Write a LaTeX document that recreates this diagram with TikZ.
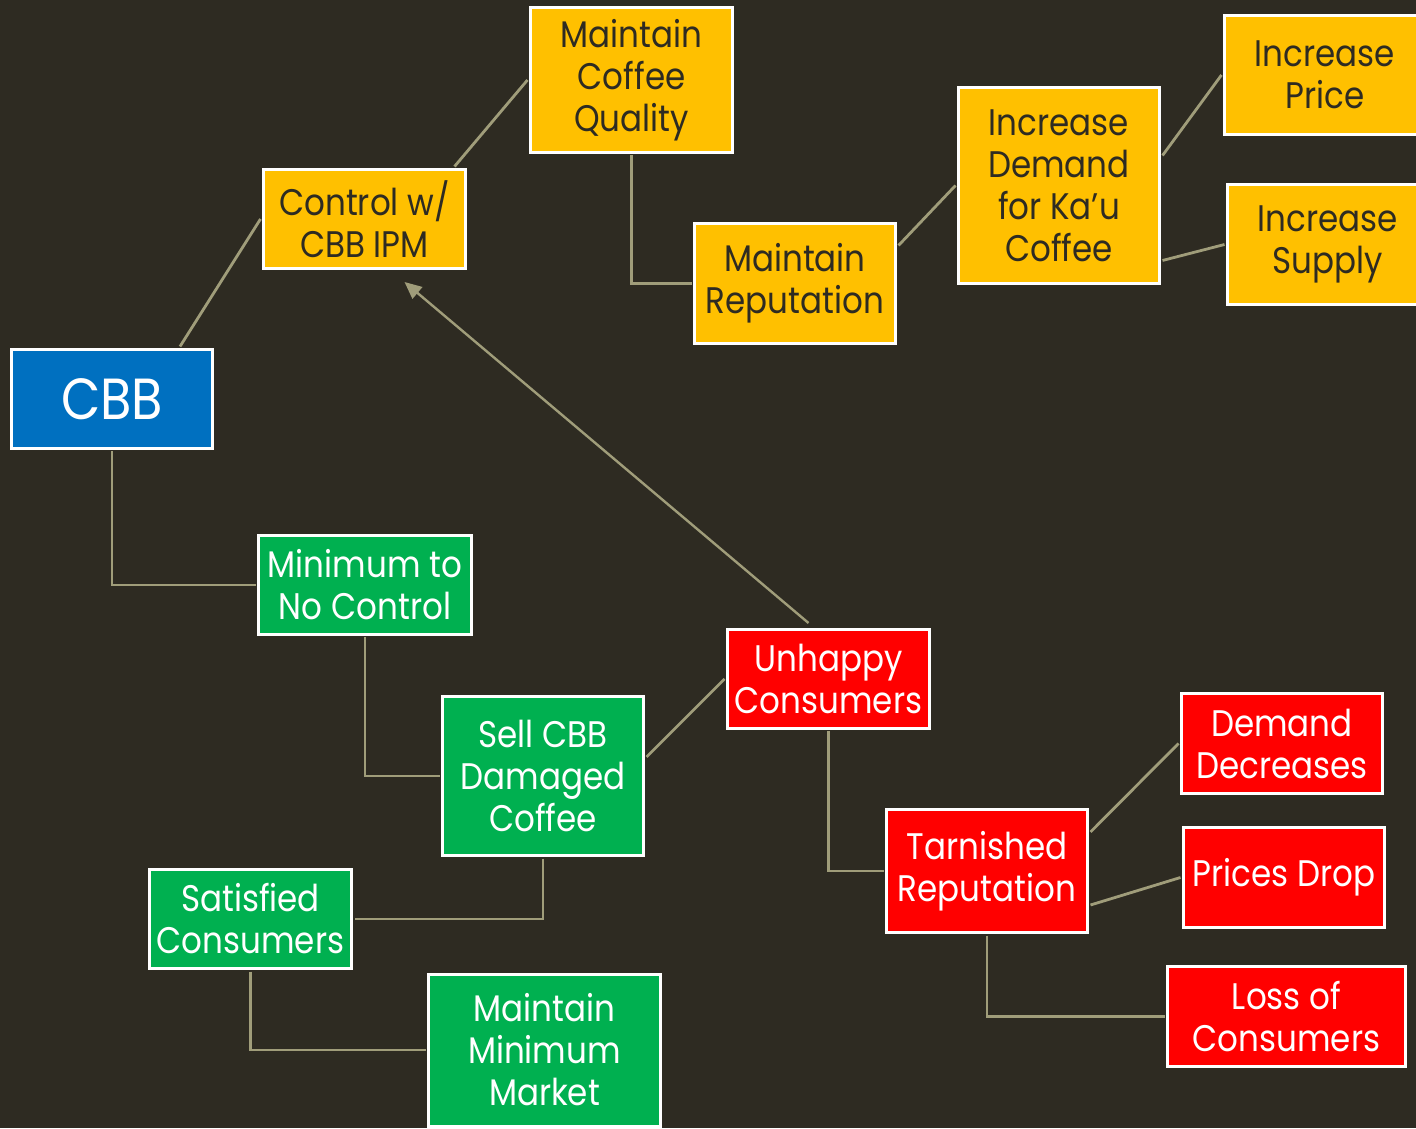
\documentclass[tikz,border=0pt]{standalone}
\usepackage{fontspec}
\setmainfont[FakeStretch=0.88]{Poppins}
\usetikzlibrary{arrows.meta}
\definecolor{bgc}{RGB}{46,43,34}
\definecolor{linec}{RGB}{160,157,122}
\definecolor{yel}{RGB}{255,192,0}
\definecolor{grn}{RGB}{0,176,80}
\definecolor{rd}{RGB}{255,0,0}
\definecolor{blu}{RGB}{0,112,192}
\begin{document}
\begin{tikzpicture}[x=1pt,y=1pt,
  box/.style={draw=white,line width=3pt,align=center,inner sep=0pt,
    font=\fontsize{37}{42}\selectfont},
  ybox/.style={box,fill=yel,text=bgc},
  gbox/.style={box,fill=grn,text=white},
  rbox/.style={box,fill=rd,text=white},
  bbox/.style={box,fill=blu,text=white,font=\fontsize{58}{64}\selectfont},
  conn/.style={draw=linec,line width=2.8pt},
  arr/.style={draw=linec,line width=2.4pt,-{Triangle[length=17pt,width=15pt]}}
]
\fill[bgc] (0,0) rectangle (1416,1128);
\useasboundingbox (0,0) rectangle (1416,1128);
\begin{scope}
\clip (0,0) rectangle (1416,1128);
% nodes
\node[bbox,minimum width=201,minimum height=99] (cbb) at (112,729) {CBB};
\node[ybox,minimum width=202,minimum height=99] (ctrl) at (364.5,909) {Control w/\\CBB IPM};
\node[ybox,minimum width=202,minimum height=145] (mcq) at (631.5,1048) {Maintain\\Coffee\\Quality};
\node[ybox,minimum width=201,minimum height=120] (mr) at (795,844.5) {Maintain\\Reputation};
\node[ybox,minimum width=201,minimum height=196] (id) at (1059,942.5) {Increase\\Demand\\for Ka’u\\Coffee};
\node[ybox,minimum width=201,minimum height=119] (ip) at (1325,1053) {Increase\\Price};
\node[ybox,minimum width=201,minimum height=120] (is) at (1328,883.5) {Increase\\Supply};
\node[gbox,minimum width=213,minimum height=99] (min) at (365,543) {Minimum to\\No Control};
\node[gbox,minimum width=201,minimum height=159] (sell) at (543,352) {Sell CBB\\Damaged\\Coffee};
\node[gbox,minimum width=202,minimum height=99] (sat) at (250.5,209) {Satisfied\\Consumers};
\node[gbox,minimum width=232,minimum height=152] (mmm) at (544.5,78) {Maintain\\Minimum\\Market};
\node[rbox,minimum width=202,minimum height=99] (unh) at (828.5,449) {Unhappy\\Consumers};
\node[rbox,minimum width=201,minimum height=123] (tarn) at (987,257) {Tarnished\\Reputation};
\node[rbox,minimum width=201,minimum height=100] (dd) at (1282,384.5) {Demand\\Decreases};
\node[rbox,minimum width=201,minimum height=100] (pd) at (1284,250.5) {Prices Drop};
\node[rbox,minimum width=238,minimum height=100] (loss) at (1286.5,111.5) {Loss of\\Consumers};
% connectors
\draw[conn] ([xshift=68pt,yshift=1.5pt]cbb.north) -- ([xshift=-1.5pt]ctrl.west);
\draw[conn] ([xshift=90pt,yshift=1.5pt]ctrl.north) -- ([xshift=-1.5pt]mcq.west);
\draw[conn] ([yshift=-1.5pt]mcq.south) |- ([xshift=-1.5pt]mr.west);
\draw[conn] ([xshift=1.5pt,yshift=38pt]mr.east) -- ([xshift=-1.5pt]id.west);
\draw[conn] ([xshift=1.5pt,yshift=30pt]id.east) -- ([xshift=-1.5pt]ip.west);
\draw[conn] ([xshift=1.5pt,yshift=-75pt]id.east) -- ([xshift=-1.5pt]is.west);
\draw[conn] ([yshift=-1.5pt]cbb.south) |- ([xshift=-1.5pt]min.west);
\draw[conn] ([yshift=-1.5pt]min.south) |- ([xshift=-1.5pt]sell.west);
\draw[conn] ([xshift=1.5pt,yshift=19pt]sell.east) -- ([xshift=-1.5pt]unh.west);
\draw[conn] ([yshift=-1.5pt]sell.south) |- ([xshift=1.5pt]sat.east);
\draw[conn] ([yshift=-1.5pt]sat.south) |- ([xshift=-1.5pt]mmm.west);
\draw[conn] ([yshift=-1.5pt]unh.south) |- ([xshift=-1.5pt]tarn.west);
\draw[conn] ([xshift=1.5pt,yshift=39pt]tarn.east) -- ([xshift=-1.5pt]dd.west);
\draw[conn] ([xshift=1.5pt,yshift=-34pt]tarn.east) -- ([xshift=-1.5pt]pd.west);
\draw[conn] ([yshift=-1.5pt]tarn.south) |- ([xshift=-1.5pt]loss.west);
\draw[arr] ([xshift=-20pt,yshift=5pt]unh.north) -- ([xshift=40pt,yshift=-12pt]ctrl.south);
\end{scope}
\end{tikzpicture}
\end{document}
